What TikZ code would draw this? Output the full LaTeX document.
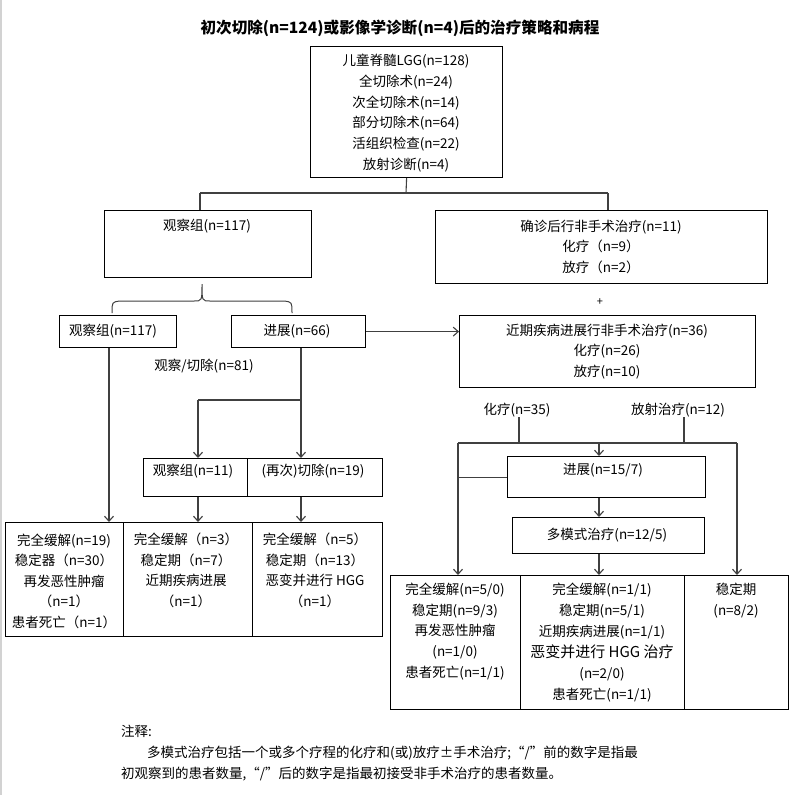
\documentclass[tikz,border=0pt]{standalone}
\usepackage{fontspec}
\setmainfont{Noto Sans CJK SC}
\usetikzlibrary{arrows.meta}
\tikzset{
  box/.style={draw=black, line width=1.2pt, anchor=north west, inner sep=0pt},
  conn/.style={draw=black!75, line width=1.1pt},
  arr/.style={conn, -{Straight Barb[length=5pt,width=9pt]}},
  txt/.style={font=\fontsize{13.5}{20.8}\selectfont, align=center, inner sep=0pt, text=black},
  note/.style={font=\fontsize{13.5}{15}\selectfont, inner sep=0pt, anchor=west, text=black},
}
\begin{document}
\begin{tikzpicture}[x=1pt, y=-1pt]
\useasboundingbox (0,0) rectangle (797,795);
\fill[white] (0,0) rectangle (797,795);
\draw[gray!35, line width=2pt] (1,0) -- (1,795);

% title
\node[inner sep=0pt, font=\bfseries\fontsize{15.6}{18}\selectfont] (title) at (400,28) {初次切除(n=124)或影像学诊断(n=4)后的治疗策略和病程};

% top box
\node[box, minimum width=192pt, minimum height=131pt] (top) at (310,46) {};
\node[txt] (toptxt) at (406,113) {儿童脊髓LGG(n=128)\\全切除术(n=24)\\次全切除术(n=14)\\部分切除术(n=64)\\活组织检查(n=22)\\放射诊断(n=4)};

% level 2
\node[box, minimum width=207pt, minimum height=67pt] (obs1) at (104,210) {};
\node[txt] (obs1txt) at (207,226) {观察组(n=117)};
\node[box, minimum width=332pt, minimum height=73pt] (diag) at (435,210) {};
\node[txt, font=\fontsize{13.5}{20.5}\selectfont] (diagtxt) at (601,246.5) {确诊后行非手术治疗(n=11)\\化疗（n=9）\\放疗（n=2）};

\coordinate (jt) at (406,193);
\coordinate (jl) at (200,193);
\coordinate (jr) at (608,193);
\draw[conn] (top.south) -- (jt);
\draw[conn] (jl) -- (jr);
\draw[conn] (jl) -- (jl |- obs1.north);
\draw[conn] (jr) -- (jr |- diag.north);

% brace
\draw[conn, line width=1pt] (112,313) .. controls (112,302) .. (120,301) -- (194,301) .. controls (202,301) .. (202,284)
  .. controls (202,301) .. (210,301) -- (284,301) .. controls (292,302) .. (292,313);
\node[inner sep=0pt, font=\fontsize{11}{12}\selectfont] (plus) at (600,302) {+};

% level 3
\node[box, minimum width=117pt, minimum height=32pt] (obs2) at (59,315) {};
\node[txt] (obs2txt) at (113,331) {观察组(n=117)};
\node[box, minimum width=134pt, minimum height=32pt] (prog) at (231,315) {};
\node[txt] (progtxt) at (297,331) {进展(n=66)};
\node[box, minimum width=296pt, minimum height=72pt] (near) at (459,315) {};
\node[txt, font=\fontsize{13.5}{20.5}\selectfont] (neartxt) at (607,351.5) {近期疾病进展行非手术治疗(n=36)\\化疗(n=26)\\放疗(n=10)};
\draw[arr] (prog.east) -- (prog.east -| near.west);
\node[txt] (obsres) at (204,366) {观察/切除(n=81)};

% level 4 left
\node[box, minimum width=104pt, minimum height=38pt] (obs3) at (143,458) {};
\node[txt] (obs3txt) at (193,471) {观察组(n=11)};
\node[box, minimum width=135pt, minimum height=38pt] (res) at (247,458) {};
\node[txt] (restxt) at (313,471) {(再次)切除(n=19)};

\coordinate (a1) at (109,0);
\coordinate (b1) at (301,400);
\coordinate (b0) at (198,400);
\draw[conn] (prog.south -| b1) -- (b1) -- (b0);
\draw[arr] (b0) -- (b0 |- obs3.north);
\draw[arr] (b1) -- (b1 |- res.north);

% bottom left row
\node[box, minimum width=118pt, minimum height=114pt] (bl1) at (5,522) {};
\node[box, minimum width=129pt, minimum height=114pt] (bl2) at (123,522) {};
\node[box, minimum width=130pt, minimum height=114pt] (bl3) at (252,522) {};
\node[txt, font=\fontsize{13.5}{20.5}\selectfont] (bl1txt) at (64,581) {完全缓解(n=19)\\稳定器（n=30）\\再发恶性肿瘤\\（n=1）\\患者死亡（n=1）};
\node[txt, font=\fontsize{13.5}{20.5}\selectfont] (bl2txt) at (186,570.5) {完全缓解（n=3）\\稳定期（n=7）\\近期疾病进展\\（n=1）};
\node[txt, font=\fontsize{13.5}{20.5}\selectfont] (bl3txt) at (315,570.5) {完全缓解（n=5）\\稳定期（n=13）\\恶变并进行 HGG\\（n=1）};
\draw[arr] (obs2.south -| a1) -- (bl1.north -| a1);
\draw[arr] (obs3.south -| b0) -- (bl2.north -| b0);
\draw[arr] (res.south -| b1) -- (bl3.north -| b1);

% right branch
\node[txt] (chem) at (517,410) {化疗(n=35)};
\node[txt] (rad) at (678,410) {放射治疗(n=12)};
\coordinate (r1) at (519,443);
\coordinate (r2) at (684,443);
\coordinate (rl) at (458,443);
\coordinate (rr) at (737,443);
\coordinate (rc) at (599,443);
\node[box, minimum width=198pt, minimum height=41pt] (p2) at (507,456) {};
\node[txt] (p2txt) at (603,470) {进展(n=15/7)};
\node[box, minimum width=192pt, minimum height=36pt] (mm) at (512,517) {};
\node[txt] (mmtxt) at (607,535) {多模式治疗(n=12/5)};

\node[box, minimum width=130pt, minimum height=134pt] (br1) at (390,575) {};
\node[box, minimum width=164pt, minimum height=134pt] (br2) at (520,575) {};
\node[box, minimum width=104pt, minimum height=134pt] (br3) at (684,575) {};
\node[txt] (br1txt) at (455,631.5) {完全缓解(n=5/0)\\稳定期(n=9/3)\\再发恶性肿瘤\\(n=1/0)\\患者死亡(n=1/1)};
\node[txt, font=\fontsize{13.5}{21}\selectfont] (br2txt) at (602,642.5) {完全缓解(n=1/1)\\稳定期(n=5/1)\\近期疾病进展(n=1/1)\\{\fontsize{15}{21}\selectfont 恶变并进行 HGG 治疗}\\(n=2/0)\\患者死亡(n=1/1)};
\node[txt] (br3txt) at (736,600.5) {稳定期\\(n=8/2)};

\draw[conn] (r1 |- chem.south) -- (r1);
\draw[conn] (r2 |- rad.south) -- (r2);
\draw[conn] (rl) -- (rr);
\draw[arr] (rc) -- (rc |- p2.north);
\draw[conn] (p2.west) -- (p2.west -| rl);
\draw[arr] (rl) -- (rl |- br1.north);
\draw[arr] (rr) -- (rr |- br3.north);
\draw[arr] (p2.south -| rc) -- (mm.north -| rc);
\draw[arr] (mm.south -| rc) -- (br2.north -| rc);

% notes
\node[note] (n0) at (121,731) {注释:};
\node[note] (n1) at (147,753) {多模式治疗包括一个或多个疗程的化疗和(或)放疗±手术治疗;“/”前的数字是指最};
\node[note] (n2) at (121,774) {初观察到的患者数量,“/”后的数字是指最初接受非手术治疗的患者数量。};
\end{tikzpicture}
\end{document}
